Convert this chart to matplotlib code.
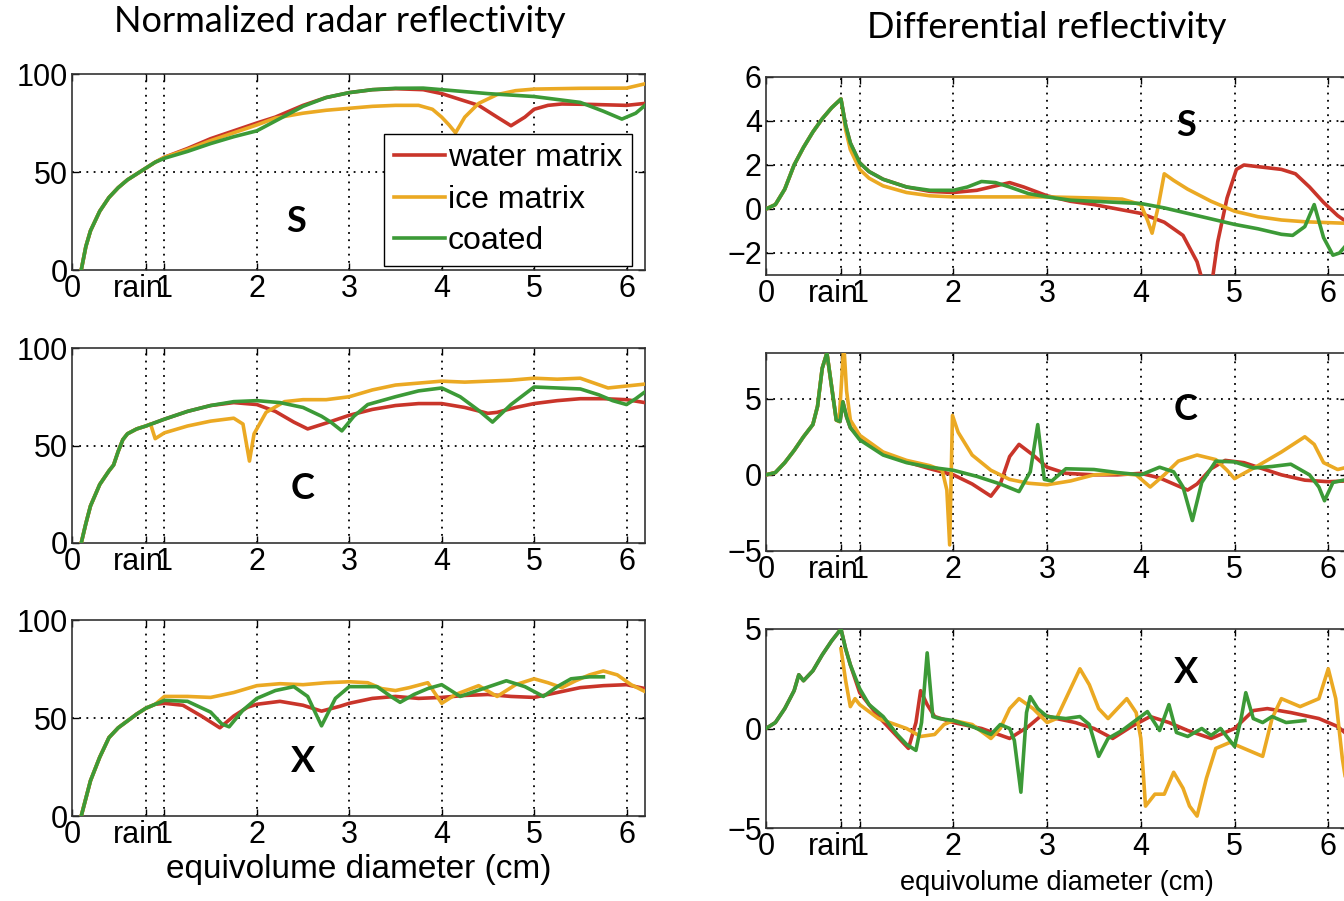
#!/usr/bin/env python3
"""
Normalized radar reflectivity / differential reflectivity vs. equivolume diameter
for S, C and X band (water matrix, ice matrix, coated hailstones).
"""

import matplotlib
matplotlib.use("Agg")
import matplotlib.pyplot as plt
import matplotlib.transforms as mtransforms

# -------------------------------------------------------------
# Data
# -------------------------------------------------------------
# Normalized reflectivity, S band
zh_s_water_x = [0.1, 0.15, 0.2, 0.3, 0.4, 0.5, 0.6, 0.7, 0.8, 0.9, 1.0, 1.25, 1.5, 1.75, 2.0, 2.2, 2.5, 2.75,
                3.0, 3.25, 3.5, 3.8, 4.0, 4.2, 4.4, 4.6, 4.75, 4.9, 5.0, 5.15, 5.3, 5.6, 6.0, 6.2]
zh_s_water_y = [0, 12, 20, 30, 37, 42, 46, 49, 52, 55, 57.5, 62, 67, 71, 75, 78, 84, 88,
                90.5, 92, 92.5, 92, 90, 87, 84, 78, 73.6, 78, 82, 84, 84.7, 84.5, 84, 85]
zh_s_ice_x = [0.1, 0.15, 0.2, 0.3, 0.4, 0.5, 0.6, 0.7, 0.8, 0.9, 1.0, 1.25, 1.5, 1.75, 2.0, 2.2, 2.5, 2.75,
              3.0, 3.25, 3.5, 3.75, 3.9, 4.0, 4.08, 4.15, 4.25, 4.4, 4.6, 4.8, 5.0, 5.5, 6.0, 6.2]
zh_s_ice_y = [0, 12, 20, 30, 37, 42, 46, 49, 52, 55, 57.5, 61.5, 66, 70, 74, 77.5, 80, 81.5,
              82.5, 83.5, 84, 84, 82, 78, 74, 70, 78, 85, 89.5, 91.5, 92.3, 92.7, 92.8, 95]
zh_s_coat_x = [0.1, 0.15, 0.2, 0.3, 0.4, 0.5, 0.6, 0.7, 0.8, 0.9, 1.0, 1.25, 1.5, 1.75, 2.0, 2.2, 2.5, 2.75,
               3.0, 3.25, 3.5, 3.8, 4.0, 4.5, 5.0, 5.5, 5.75, 5.95, 6.1, 6.2]
zh_s_coat_y = [0, 12, 20, 30, 37, 42, 46, 49, 52, 55, 57, 60.5, 64.5, 68, 71, 76, 83.5, 88,
               90.5, 92, 92.7, 92.8, 92, 90, 88.5, 85.5, 81, 77, 80, 84]

# Normalized reflectivity, C band
zh_c_water_x = [0.1, 0.15, 0.2, 0.3, 0.4, 0.45, 0.5, 0.55, 0.6, 0.7, 0.8, 1.0, 1.25, 1.5, 1.75, 2.0, 2.2, 2.4,
                2.55, 2.75, 3.0, 3.25, 3.5, 3.75, 4.0, 4.25, 4.5, 4.6, 4.8, 5.0, 5.25, 5.5, 5.75, 6.0, 6.2]
zh_c_water_y = [0, 10, 19, 30, 37, 40, 47, 53, 56, 58.5, 60, 63.5, 67.5, 70.5, 72, 71, 67.5, 62,
                58.5, 61.5, 65.5, 68.5, 70.5, 71.5, 71.5, 69.5, 66.5, 67, 69.5, 71.5, 73, 74, 74, 73.5, 72]
zh_c_ice_x = [0.1, 0.15, 0.2, 0.3, 0.4, 0.45, 0.5, 0.55, 0.6, 0.7, 0.8, 0.85, 0.9, 1.0, 1.25, 1.5, 1.75, 1.85,
              1.92, 1.97, 2.1, 2.3, 2.5, 2.75, 3.0, 3.25, 3.5, 3.75, 4.0, 4.25, 4.5, 4.75, 5.0, 5.25, 5.5,
              5.65, 5.8, 6.0, 6.2]
zh_c_ice_y = [0, 10, 19, 30, 37, 40, 47, 53, 56, 58.5, 60, 61, 53.5, 56.5, 60, 62.5, 64, 61,
              42, 56, 67, 72.5, 73.5, 73.5, 75, 78.5, 81, 82, 83, 82.5, 83, 83.5, 84.5, 84, 84.5,
              82, 79.5, 80.5, 81.5]
zh_c_coat_x = [0.1, 0.15, 0.2, 0.3, 0.4, 0.45, 0.5, 0.55, 0.6, 0.7, 0.8, 1.0, 1.25, 1.5, 1.75, 2.0, 2.25, 2.5,
               2.7, 2.8, 2.92, 3.05, 3.2, 3.5, 3.75, 4.0, 4.2, 4.4, 4.55, 4.75, 5.0, 5.25, 5.5, 5.7, 5.85,
               6.0, 6.1, 6.2]
zh_c_coat_y = [0, 10, 19, 30, 37, 40, 47, 53, 56, 58.5, 60, 63.5, 67.5, 70.5, 72.5, 73, 72, 69.5,
               65, 62, 57.5, 65, 71, 75, 78, 79.5, 75, 68, 62, 71, 80, 79.5, 79, 76, 73,
               71, 74, 77.5]

# Normalized reflectivity, X band
zh_x_water_x = [0.1, 0.15, 0.2, 0.3, 0.4, 0.5, 0.6, 0.7, 0.8, 0.9, 1.0, 1.2, 1.4, 1.6, 1.75, 1.9, 2.0, 2.25,
                2.5, 2.7, 2.9, 3.0, 3.25, 3.5, 3.75, 4.0, 4.25, 4.5, 4.75, 5.0, 5.25, 5.5, 5.75, 6.0, 6.2]
zh_x_water_y = [0, 9, 18, 30, 40, 45, 48.5, 52, 55, 57, 57.5, 56.5, 51, 45, 51, 55.5, 57, 58.5,
                56.5, 53.5, 56, 57.5, 60, 61, 60, 60.5, 61.5, 62, 61, 60.5, 63, 65.5, 66.5, 67, 65]
zh_x_ice_x = [0.1, 0.15, 0.2, 0.3, 0.4, 0.5, 0.6, 0.7, 0.8, 0.9, 1.0, 1.25, 1.5, 1.75, 2.0, 2.25, 2.5, 2.75,
              3.0, 3.2, 3.35, 3.5, 3.65, 3.85, 4.0, 4.15, 4.4, 4.6, 4.8, 5.0, 5.15, 5.3, 5.45, 5.6, 5.75,
              5.9, 6.05, 6.2]
zh_x_ice_y = [0, 9, 18, 30, 40, 45, 48.5, 52, 55, 57, 61, 61, 60.5, 63, 66.5, 67.5, 67, 68,
              68.5, 68, 65, 64, 65.5, 68, 57.5, 62, 66.5, 61, 67, 70, 68, 65.5, 69, 72, 74,
              72, 67, 63.5]
zh_x_coat_x = [0.1, 0.15, 0.2, 0.3, 0.4, 0.5, 0.6, 0.7, 0.8, 0.9, 1.0, 1.25, 1.5, 1.62, 1.7, 1.85, 2.0, 2.2,
               2.4, 2.55, 2.7, 2.85, 3.0, 3.3, 3.45, 3.55, 3.7, 3.85, 4.0, 4.2, 4.45, 4.7, 4.9, 5.1, 5.25,
               5.4, 5.6, 5.75]
zh_x_coat_y = [0, 9, 18, 30, 40, 45, 48.5, 52, 55, 57, 59, 58.5, 53, 47, 45.5, 54, 60, 64,
               66, 61, 46, 60, 66, 66, 61, 58, 62, 65, 67, 61, 65, 69, 66, 61, 66,
               70, 71, 71]

# Differential reflectivity, S band
zdr_s_water_x = [0, 0.1, 0.2, 0.3, 0.4, 0.5, 0.6, 0.7, 0.8, 0.85, 0.9, 1.0, 1.1, 1.25, 1.5, 1.75, 2.0, 2.25,
                 2.45, 2.6, 2.75, 3.0, 3.25, 3.5, 3.75, 4.0, 4.25, 4.45, 4.6, 4.68, 4.75, 4.82, 4.92, 5.02,
                 5.1, 5.3, 5.5, 5.65, 5.8, 5.95, 6.1, 6.2]
zdr_s_water_y = [0, 0.2, 0.9, 2.0, 2.8, 3.5, 4.1, 4.6, 5.0, 3.8, 3.0, 2.1, 1.7, 1.35, 1.0, 0.8, 0.75, 0.85,
                 1.05, 1.2, 1.0, 0.6, 0.35, 0.2, 0.0, -0.2, -0.6, -1.2, -2.4, -3.6, -3.6, -1.5, 0.5, 1.8,
                 2.0, 1.9, 1.8, 1.6, 1.0, 0.3, -0.3, -0.6]
zdr_s_ice_x = [0, 0.1, 0.2, 0.3, 0.4, 0.5, 0.6, 0.7, 0.8, 0.85, 0.9, 1.0, 1.1, 1.25, 1.5, 1.75, 2.0, 2.5,
               3.0, 3.5, 3.8, 4.0, 4.07, 4.12, 4.18, 4.25, 4.35, 4.5, 4.75, 5.0, 5.25, 5.5, 5.75, 6.0, 6.2]
zdr_s_ice_y = [0, 0.2, 0.9, 2.0, 2.8, 3.5, 4.1, 4.6, 5.0, 3.6, 2.7, 1.8, 1.4, 1.05, 0.75, 0.6, 0.55, 0.55,
               0.55, 0.5, 0.45, 0.2, -0.5, -1.1, 0.0, 1.6, 1.3, 0.9, 0.35, -0.1, -0.35, -0.5, -0.58, -0.62, -0.65]
zdr_s_coat_x = [0, 0.1, 0.2, 0.3, 0.4, 0.5, 0.6, 0.7, 0.8, 0.85, 0.9, 1.0, 1.1, 1.25, 1.5, 1.75, 2.0, 2.15,
                2.3, 2.45, 2.6, 2.8, 3.0, 3.25, 3.5, 3.75, 4.0, 4.25, 4.5, 4.75, 5.0, 5.25, 5.5, 5.62,
                5.75, 5.85, 5.95, 6.05, 6.12, 6.2]
zdr_s_coat_y = [0, 0.2, 0.9, 2.0, 2.8, 3.5, 4.1, 4.6, 5.0, 3.8, 3.0, 2.1, 1.7, 1.35, 1.0, 0.85, 0.85, 1.0,
                1.25, 1.2, 1.0, 0.7, 0.55, 0.4, 0.35, 0.3, 0.25, 0.05, -0.2, -0.45, -0.7, -0.9, -1.15, -1.2,
                -0.8, 0.2, -1.3, -2.1, -2.0, -1.6]

# Differential reflectivity, C band
zdr_c_water_x = [0, 0.1, 0.2, 0.3, 0.4, 0.5, 0.55, 0.6, 0.65, 0.7, 0.75, 0.79, 0.82, 0.86, 0.9, 1.0, 1.25,
                 1.5, 1.75, 2.0, 2.2, 2.4, 2.5, 2.6, 2.7, 2.85, 3.0, 3.2, 3.5, 3.75, 4.0, 4.2, 4.35, 4.5,
                 4.6, 4.75, 4.9, 5.1, 5.3, 5.5, 5.75, 6.0, 6.2]
zdr_c_water_y = [0, 0.15, 0.8, 1.6, 2.5, 3.3, 4.5, 7.0, 8.0, 5.8, 3.6, 3.5, 4.8, 3.8, 3.1, 2.4, 1.4,
                 0.85, 0.4, 0.0, -0.6, -1.4, -0.6, 1.2, 2.0, 1.3, 0.5, 0.1, 0.0, 0.0, 0.1, -0.2, -0.6, -1.0,
                 -0.6, 0.4, 0.95, 0.8, 0.4, 0.0, -0.35, -0.45, -0.4]
zdr_c_ice_x = [0, 0.1, 0.2, 0.3, 0.4, 0.5, 0.55, 0.6, 0.65, 0.7, 0.75, 0.78, 0.81, 0.83, 0.86, 0.9, 1.0,
               1.25, 1.5, 1.75, 1.88, 1.93, 1.96, 1.99, 2.05, 2.2, 2.4, 2.6, 2.8, 3.0, 3.25, 3.5, 3.75,
               3.95, 4.1, 4.25, 4.4, 4.6, 4.8, 4.92, 5.0, 5.1, 5.25, 5.5, 5.75, 5.85, 5.95, 6.1, 6.2]
zdr_c_ice_y = [0, 0.15, 0.8, 1.6, 2.5, 3.3, 4.5, 7.0, 8.0, 5.8, 3.6, 3.5, 6.5, 8.6, 5.5, 3.6, 2.6,
               1.5, 0.95, 0.6, 0.3, -1.0, -4.6, 3.9, 2.8, 1.3, 0.3, -0.3, -0.55, -0.65, -0.4, 0.0, 0.1,
               0.0, -0.8, 0.0, 0.9, 1.3, 1.0, 0.3, -0.25, 0.1, 0.6, 1.5, 2.5, 2.0, 0.8, 0.35, 0.5]
zdr_c_coat_x = [0, 0.1, 0.2, 0.3, 0.4, 0.5, 0.55, 0.6, 0.65, 0.7, 0.75, 0.79, 0.82, 0.86, 0.9, 1.0, 1.25,
                1.5, 1.75, 2.0, 2.25, 2.5, 2.7, 2.82, 2.9, 2.97, 3.05, 3.2, 3.5, 3.75, 4.0, 4.2, 4.35,
                4.45, 4.55, 4.65, 4.8, 5.0, 5.2, 5.4, 5.6, 5.8, 5.9, 5.96, 6.05, 6.2]
zdr_c_coat_y = [0, 0.15, 0.8, 1.6, 2.5, 3.3, 4.5, 7.0, 8.0, 5.8, 3.6, 3.5, 4.8, 3.8, 3.1, 2.3, 1.3,
                0.8, 0.5, 0.3, -0.1, -0.6, -1.1, 0.2, 3.3, -0.3, -0.4, 0.4, 0.35, 0.15, 0.0, 0.5, 0.2,
                -0.8, -3.0, -0.5, 0.9, 0.85, 0.45, 0.55, 0.7, 0.0, -0.8, -1.7, -0.5, -0.3]

# Differential reflectivity, X band
zdr_x_water_x = [0, 0.1, 0.2, 0.3, 0.35, 0.4, 0.5, 0.6, 0.7, 0.8, 0.85, 0.9, 1.0, 1.2, 1.4, 1.52, 1.6, 1.65,
                 1.72, 1.8, 2.0, 2.3, 2.6, 2.8, 2.95, 3.1, 3.3, 3.5, 3.7, 3.9, 4.1, 4.3, 4.5, 4.75, 5.0,
                 5.2, 5.35, 5.6, 5.9, 6.1, 6.2]
zdr_x_water_y = [0, 0.3, 1.0, 1.9, 2.7, 2.4, 2.9, 3.7, 4.4, 5.0, 4.0, 3.2, 1.8, 0.6, -0.4, -1.0, 0.3, 1.9,
                 1.2, 0.6, 0.3, 0.0, -0.5, 0.1, 0.7, 0.5, 0.3, 0.0, -0.5, 0.1, 0.6, 0.3, -0.1, -0.5, 0.0,
                 0.9, 1.0, 0.8, 0.5, 0.1, -0.3]
zdr_x_ice_x = [0.8, 0.85, 0.9, 0.95, 1.0, 1.2, 1.5, 1.65, 1.8, 1.9, 2.0, 2.2, 2.4, 2.5, 2.6, 2.7, 2.85, 3.0,
               3.1, 3.2, 3.35, 3.45, 3.55, 3.65, 3.85, 3.95, 4.0, 4.05, 4.15, 4.25, 4.35, 4.45, 4.52, 4.6,
               4.7, 4.8, 4.95, 5.1, 5.3, 5.4, 5.5, 5.7, 5.9, 6.0, 6.08, 6.15, 6.2]
zdr_x_ice_y = [4.0, 2.4, 1.1, 1.5, 1.2, 0.5, 0.0, -0.4, -0.3, 0.2, 0.4, 0.2, -0.5, 0.0, 1.0, 1.5, 1.0, 0.3,
               0.5, 1.5, 3.0, 2.2, 1.0, 0.5, 1.5, 0.8, -0.5, -3.9, -3.3, -3.3, -2.2, -3.0, -3.9, -4.4,
               -2.5, -1.0, -0.7, -1.0, -1.4, 0.5, 1.5, 1.1, 1.5, 3.0, 1.5, -1.5, -3.0]
zdr_x_coat_x = [0, 0.1, 0.2, 0.3, 0.35, 0.4, 0.5, 0.6, 0.7, 0.8, 0.85, 0.9, 1.0, 1.1, 1.25, 1.4, 1.5, 1.6,
                1.66, 1.72, 1.78, 1.85, 2.0, 2.2, 2.4, 2.5, 2.6, 2.65, 2.72, 2.78, 2.82, 2.9, 3.0, 3.2,
                3.35, 3.45, 3.55, 3.65, 3.8, 4.0, 4.07, 4.2, 4.3, 4.38, 4.5, 4.65, 4.75, 4.85, 5.0, 5.07,
                5.12, 5.2, 5.3, 5.4, 5.55, 5.75]
zdr_x_coat_y = [0, 0.3, 1.0, 1.9, 2.7, 2.4, 2.9, 3.7, 4.4, 5.0, 4.0, 3.2, 2.0, 1.2, 0.6, -0.3, -0.8, -1.1,
                0.3, 3.8, 0.6, 0.5, 0.4, 0.1, -0.3, 0.2, 0.0, -0.6, -3.2, 0.8, 1.6, 1.0, 0.6, 0.5,
                0.6, 0.2, -1.4, -0.5, -0.1, 0.6, 0.85, -0.1, 1.2, -0.2, -0.4, 0.0, -0.35, 0.0, -0.9, 0.5,
                1.8, 0.5, 0.3, 0.6, 0.3, 0.4]

series_names = ["water matrix", "ice matrix", "coated"]
band_labels = ["S", "C", "X"]
xtick_pos = [0, 0.8, 1, 2, 3, 4, 5, 6]
xtick_lab = ["0", "rain", "1", "2", "3", "4", "5", "6"]

RED, ORANGE, GREEN = "#c9352a", "#eba923", "#3c9a37"

# -------------------------------------------------------------
# Layout (pixel boxes of the original picture, 1344 x 901)
# -------------------------------------------------------------
W, H = 1344, 901
fig = plt.figure(figsize=(W / 100, H / 100), dpi=100)


def box(x0, y0, x1, y1):
    return [x0 / W, 1 - y1 / H, (x1 - x0) / W, (y1 - y0) / H]


left_boxes = [box(72, 74, 645, 270), box(72, 348, 645, 543), box(72, 620, 645, 816)]
right_boxes = [box(766, 77, 1347, 275), box(766, 353, 1347, 551), box(766, 629, 1347, 828)]

zh_data = [
    ((zh_s_water_x, zh_s_water_y), (zh_s_ice_x, zh_s_ice_y), (zh_s_coat_x, zh_s_coat_y)),
    ((zh_c_water_x, zh_c_water_y), (zh_c_ice_x, zh_c_ice_y), (zh_c_coat_x, zh_c_coat_y)),
    ((zh_x_water_x, zh_x_water_y), (zh_x_ice_x, zh_x_ice_y), (zh_x_coat_x, zh_x_coat_y)),
]
zdr_data = [
    ((zdr_s_water_x, zdr_s_water_y), (zdr_s_ice_x, zdr_s_ice_y), (zdr_s_coat_x, zdr_s_coat_y)),
    ((zdr_c_water_x, zdr_c_water_y), (zdr_c_ice_x, zdr_c_ice_y), (zdr_c_coat_x, zdr_c_coat_y)),
    ((zdr_x_water_x, zdr_x_water_y), (zdr_x_ice_x, zdr_x_ice_y), (zdr_x_coat_x, zdr_x_coat_y)),
]
zdr_ylims = [(-3, 6), (-5, 8), (-5, 5)]
zdr_yticks = [[-2, 0, 2, 4, 6], [-5, 0, 5], [-5, 0, 5]]

TICK_FONT = "Liberation Sans"
CAL_FONT = "Lato"


def style_axes(ax, ylim, yticks, fs):
    ax.set_xlim(0, 6.2)
    ax.set_ylim(*ylim)
    ax.set_xticks(xtick_pos)
    ax.set_xticklabels(xtick_lab, fontsize=fs, family=TICK_FONT)
    ax.set_yticks(yticks)
    ax.set_yticklabels([str(t) if t >= 0 else "\u2212" + str(-t) for t in yticks],
                       fontsize=fs, family=TICK_FONT)
    ax.tick_params(direction="in", top=True, right=True, length=5, width=1, pad=3)
    # dotted grid like MATLAB
    for xv in xtick_pos[1:]:
        ax.axvline(xv, color="black", ls=(0, (1, 3)), lw=1.3, zorder=1)
    for yv in yticks:
        if ylim[0] < yv < ylim[1]:
            ax.axhline(yv, color="black", ls=(0, (1, 3)), lw=1.3, zorder=1)
    for sp in ax.spines.values():
        sp.set_linewidth(1.2)
        sp.set_color("#333333")
    # shift the "rain" label a little to the left, as in the original
    lab = ax.get_xticklabels()[1]
    lab.set_transform(lab.get_transform() + mtransforms.ScaledTranslation(-8 / 100, 0, fig.dpi_scale_trans))


for i in range(3):
    # left column: normalized reflectivity
    ax = fig.add_axes(left_boxes[i])
    style_axes(ax, (0, 100), [0, 50, 100], 22)
    for (xs, ys), col, name in zip(zh_data[i], [RED, ORANGE, GREEN], series_names):
        ax.plot(xs, ys, color=col, lw=2.6, label=name, zorder=3, solid_joinstyle="round")
    ax.text(2.42 if i == 0 else 2.5, 25 if i == 0 else 28, band_labels[i], fontsize=26,
            fontweight="bold", family=CAL_FONT, ha="center", va="center")
    if i == 0:
        leg = ax.legend(loc="lower right", bbox_to_anchor=(0.977, 0.02),
                        prop={"family": TICK_FONT, "size": 23}, handlelength=1.6,
                        handletextpad=0.1, labelspacing=0.36, borderpad=0.3,
                        borderaxespad=0, fancybox=False, framealpha=1, edgecolor="black")
        leg.get_frame().set_linewidth(1.0)
        leg.set_zorder(5)
    if i == 2:
        ax.set_xlabel("equivolume diameter (cm)", fontsize=24, family=TICK_FONT, labelpad=3)

    # right column: differential reflectivity
    ax = fig.add_axes(right_boxes[i])
    style_axes(ax, zdr_ylims[i], zdr_yticks[i], 22)
    for (xs, ys), col in zip(zdr_data[i], [RED, ORANGE, GREEN]):
        ax.plot(xs, ys, color=col, lw=2.6, zorder=3, solid_joinstyle="round")
    ly = [3.8, 4.3, 2.8][i]
    ax.text(4.48, ly, band_labels[i], fontsize=26, fontweight="bold", family=CAL_FONT,
            ha="center", va="center")
    if i == 2:
        ax.set_xlabel("equivolume diameter (cm)", fontsize=19.5, family=TICK_FONT, labelpad=6)

fig.text(340 / W, 1 - 22 / H, "Normalized radar reflectivity", fontsize=26, family=CAL_FONT,
         ha="center", va="center")
fig.text(1047 / W, 1 - 28 / H, "Differential reflectivity", fontsize=26, family=CAL_FONT,
         ha="center", va="center")

fig.savefig("out.png", dpi=100)
